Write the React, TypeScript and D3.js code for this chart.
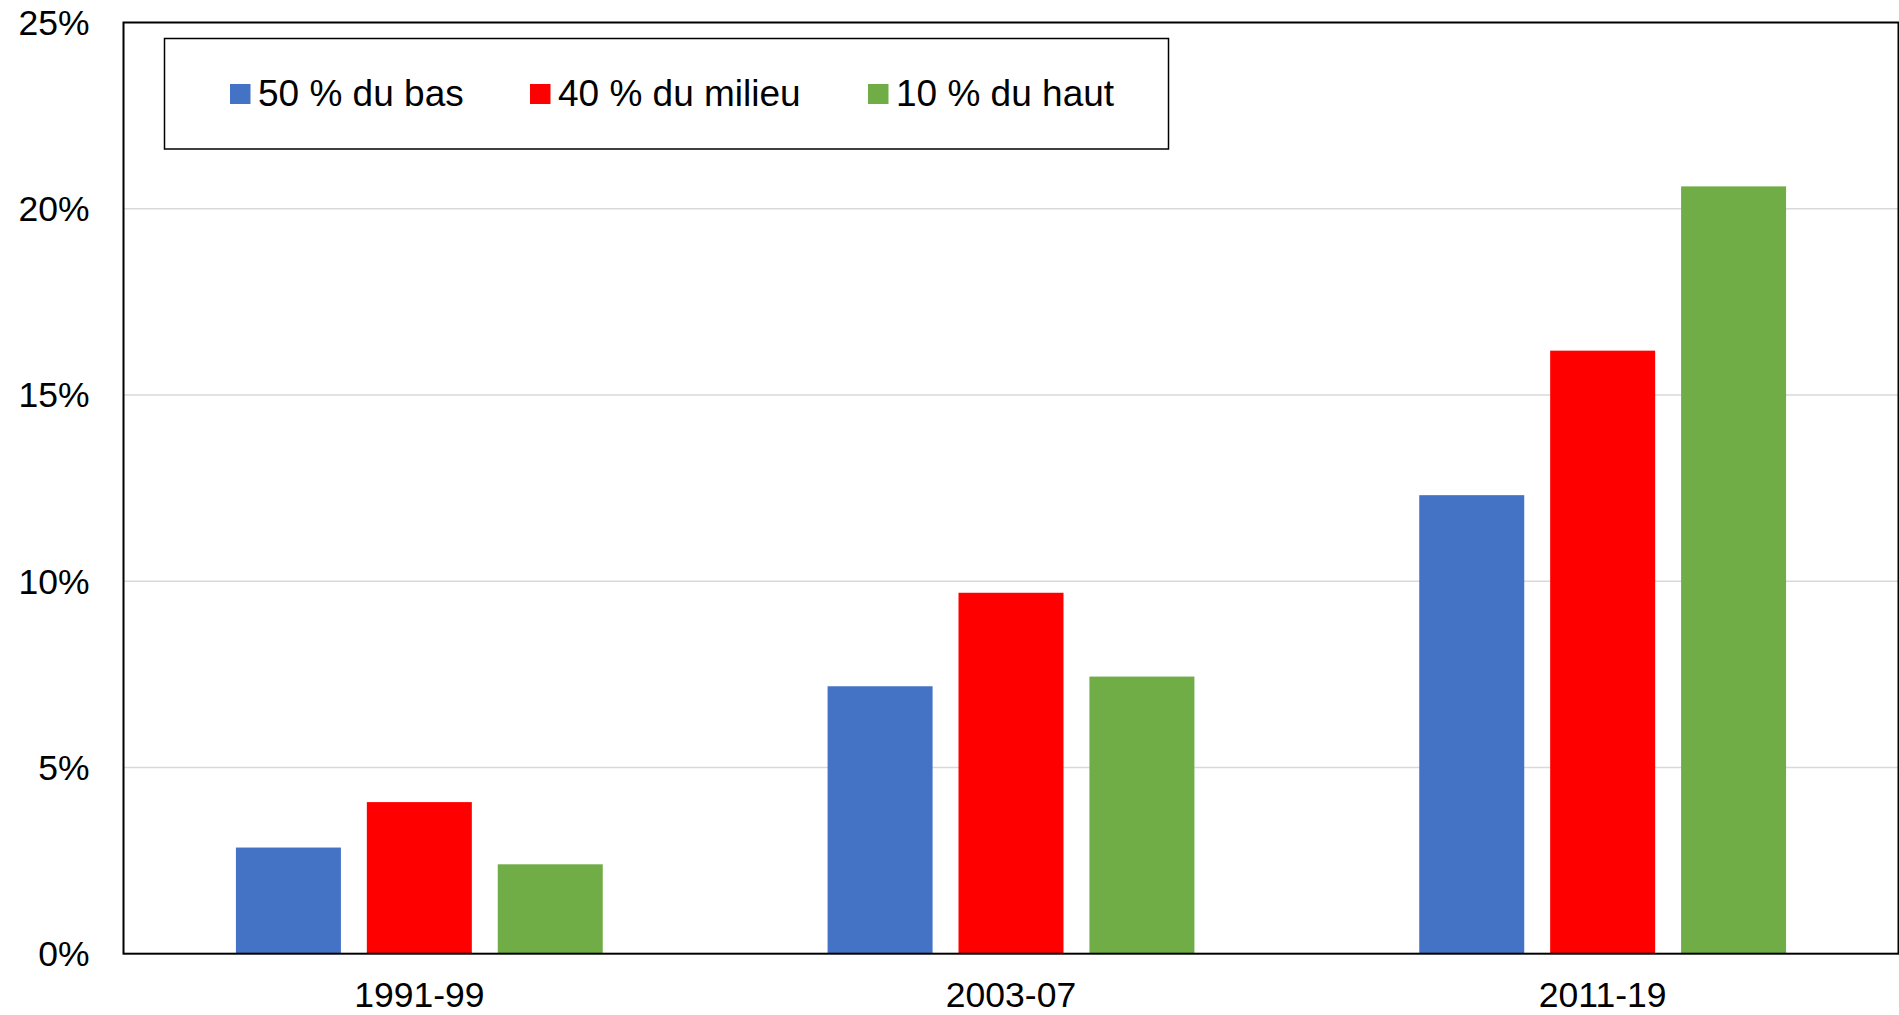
import React from "react";
import * as d3 from "d3";

const categories = ["1991-99", "2003-07", "2011-19"];
const seriesNames = ["50 % du bas", "40 % du milieu", "10 % du haut"];
const seriesColors = ["#4472c4", "#ff0000", "#70ad47"];
const bottom50 = [2.85, 7.18, 12.31];
const middle40 = [4.07, 9.69, 16.19];
const top10 = [2.4, 7.44, 20.6];
const yTicks = [0, 5, 10, 15, 20, 25];

const seriesValues = [bottom50, middle40, top10];

export default function App() {
	const width = 1899;
	const height = 1015;
	const plotLeft = 123.5;
	const plotRight = 1898.5;
	const plotTop = 22.5;
	const plotBottom = 953.7;
	const font = "'Liberation Sans', Arial, sans-serif";

	const x = d3
		.scaleBand()
		.domain(categories)
		.range([plotLeft, plotRight])
		.paddingInner(0.38)
		.paddingOuter(0.19);

	const xInner = d3
		.scaleBand()
		.domain(seriesNames)
		.range([0, x.bandwidth()])
		.paddingInner(0.198)
		.paddingOuter(0);

	const y = d3.scaleLinear().domain([0, 25]).range([plotBottom, plotTop]);

	// legend layout
	const legendItemsX = [230, 530, 868];

	return (
		<svg
			width={width}
			height={height}
			style={{ position: "fixed", top: 0, left: 0, background: "#fff" }}
		>
			{/* gridlines */}
			{yTicks
				.filter((t) => t > 0 && t < 25)
				.map((t) => (
					<line
						key={t}
						x1={plotLeft}
						x2={plotRight}
						y1={y(t)}
						y2={y(t)}
						stroke="#d9d9d9"
						strokeWidth={1.5}
					/>
				))}

			{/* bars */}
			{categories.map((cat, i) => (
				<g key={cat} transform={`translate(${x(cat)}, 0)`}>
					{seriesNames.map((s, j) => (
						<rect
							key={s}
							x={xInner(s)}
							y={y(seriesValues[j][i])}
							width={xInner.bandwidth()}
							height={plotBottom - y(seriesValues[j][i])}
							fill={seriesColors[j]}
						/>
					))}
				</g>
			))}

			{/* plot border */}
			<rect
				x={plotLeft}
				y={plotTop}
				width={plotRight - plotLeft}
				height={plotBottom - plotTop}
				fill="none"
				stroke="#000"
				strokeWidth={2}
			/>

			{/* y labels */}
			{yTicks.map((t) => (
				<text
					key={t}
					x={89.5}
					y={y(t)}
					dy="0.35em"
					textAnchor="end"
					fontFamily={font}
					fontSize={35.5}
					fill="#000"
				>
					{t}%
				</text>
			))}

			{/* x labels */}
			{categories.map((cat) => (
				<text
					key={cat}
					x={(x(cat) || 0) + x.bandwidth() / 2}
					y={1006.5}
					textAnchor="middle"
					fontFamily={font}
					fontSize={35.5}
					fill="#000"
				>
					{cat}
				</text>
			))}

			{/* legend */}
			<rect
				x={164.5}
				y={38.5}
				width={1004}
				height={110.5}
				fill="#fff"
				stroke="#000"
				strokeWidth={1.5}
			/>
			{seriesNames.map((s, j) => (
				<g key={s}>
					<rect
						x={legendItemsX[j]}
						y={84}
						width={20.5}
						height={20}
						fill={seriesColors[j]}
					/>
					<text
						x={legendItemsX[j] + 28}
						y={106}
						fontFamily={font}
						fontSize={37}
						fill="#000"
					>
						{s}
					</text>
				</g>
			))}
		</svg>
	);
}
